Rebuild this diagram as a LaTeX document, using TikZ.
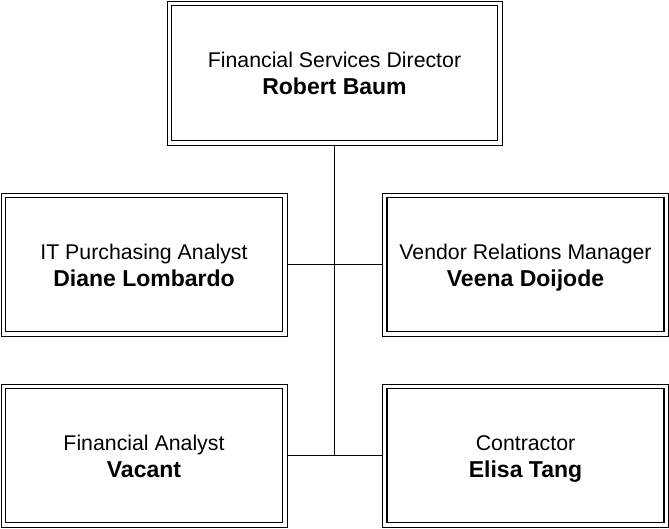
\documentclass[tikz,border=0pt]{standalone}
\usepackage{fontspec}
\setmainfont{Liberation Sans}

\newcommand{\roletext}[2]{\rule{0pt}{25pt}#1\\{\fontsize{23}{27}\selectfont\bfseries\strut#2}}

\tikzset{
  orgbox/.style={draw, line width=1pt, minimum width=286pt, minimum height=143pt,
    inner sep=0pt, align=center, font=\fontsize{21.3}{27}\selectfont},
  inner/.style={line width=1.7pt},
  link/.style={line width=1.5pt}
}

\begin{document}
\begin{tikzpicture}[x=1pt, y=-1pt]
\useasboundingbox (0, 0) rectangle (669, 528);

\node[orgbox, minimum width=335pt, minimum height=144pt] (dir) at (334.5, 73)
  {\roletext{Financial Services Director}{Robert Baum}};
\node[orgbox] (it) at (144, 264.5) {\roletext{IT Purchasing Analyst}{Diane Lombardo}};
\node[orgbox] (vendor) at (525.5, 264.5) {\roletext{Vendor Relations Manager}{Veena Doijode}};
\node[orgbox] (fin) at (144, 455.5) {\roletext{Financial Analyst}{Vacant}};
\node[orgbox] (contr) at (525.5, 455.5) {\roletext{Contractor}{Elisa Tang}};

% inner frame of each box
\foreach \n in {dir, it, vendor, fin, contr}
  \draw[inner] ([shift={(5,5)}]\n.north west) rectangle ([shift={(-5,-5)}]\n.south east);

\draw[link] (dir.south) -- (dir.south |- fin.east);
\draw[link] (it.east) -- (vendor.west);
\draw[link] (fin.east) -- (contr.west);
\end{tikzpicture}
\end{document}
